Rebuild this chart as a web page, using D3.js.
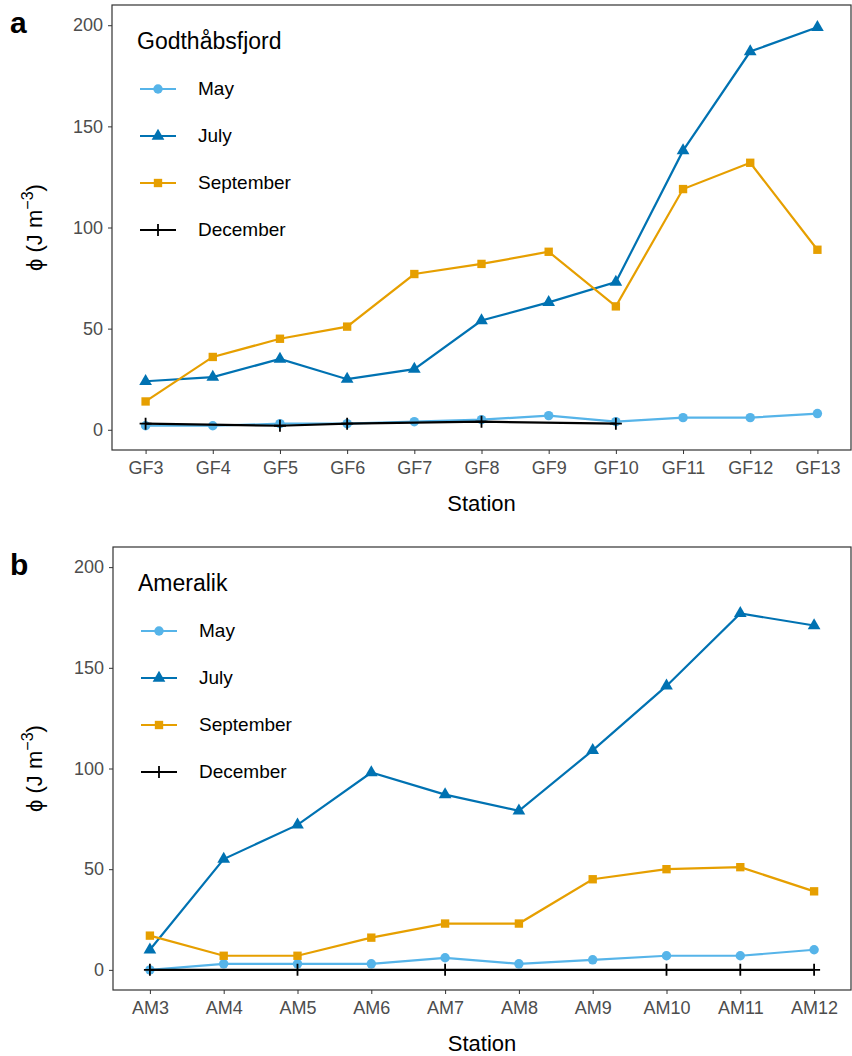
<!DOCTYPE html>
<html><head><meta charset="utf-8">
<script src="https://cdn.jsdelivr.net/npm/d3@7"></script>
<style>body{margin:0;background:#fff}text{font-family:Arial,"Liberation Sans",sans-serif}</style>
</head><body>
<svg id="c" width="852" height="1056"></svg>
<script>
// panel a data
var gfStations = ["GF3","GF4","GF5","GF6","GF7","GF8","GF9","GF10","GF11","GF12","GF13"];
var gfMay = [2,2,3,3,4,5,7,4,6,6,8];
var gfJuly = [24,26,35,25,30,54,63,73,138,187,199];
var gfSept = [14,36,45,51,77,82,88,61,119,132,89];
var gfDecStations = ["GF3","GF5","GF6","GF8","GF10"];
var gfDec = [3,2,3,4,3];
// panel b data
var amStations = ["AM3","AM4","AM5","AM6","AM7","AM8","AM9","AM10","AM11","AM12"];
var amMay = [0,3,3,3,6,3,5,7,7,10];
var amJuly = [10,55,72,98,87,79,109,141,177,171];
var amSept = [17,7,7,16,23,23,45,50,51,39];
var amDecStations = ["AM3","AM5","AM7","AM10","AM11","AM12"];
var amDec = [0,0,0,0,0,0];
var yTicks = [0,50,100,150,200];
var months = ["May","July","September","December"];
var colors = {May:"#56B4E9",July:"#0072B2",September:"#E69F00",December:"#000"};
var shapes = {May:d3.symbolCircle,July:d3.symbolTriangle,September:d3.symbolSquare,December:d3.symbolCross};

var svg = d3.select("#c");
var cross = "M-6,0L6,0M0,-6L0,6";

function panel(o) {
  var g = svg.append("g");
  var x = d3.scalePoint().domain(o.stations).range([o.x0, o.x1]).padding(0.5);
  var y = d3.scaleLinear().domain([-10, 210]).range([o.y1, o.y0]);
  g.append("rect").attr("x", o.x0).attr("y", o.y0).attr("width", o.x1 - o.x0).attr("height", o.y1 - o.y0)
    .attr("fill", "none").attr("stroke", "#333").attr("stroke-width", 1.2);
  var ya = g.append("g").attr("transform", "translate(" + o.x0 + ",0)")
    .call(d3.axisLeft(y).tickValues(yTicks).tickSize(4).tickPadding(5));
  var xa = g.append("g").attr("transform", "translate(0," + o.y1 + ")")
    .call(d3.axisBottom(x).tickSize(4).tickPadding(7));
  [ya, xa].forEach(a => {
    a.select(".domain").remove();
    a.selectAll("line").attr("stroke", "#333");
    a.selectAll("text").attr("fill", "#4d4d4d").style("font-size", "18px");
  });
  g.append("text").attr("x", (o.x0 + o.x1) / 2).attr("y", o.y1 + 61).attr("text-anchor", "middle")
    .style("font-size", "22px").text("Station");
  var yl = g.append("text").attr("transform", "translate(42," + ((o.y0 + o.y1) / 2) + ") rotate(-90)")
    .attr("text-anchor", "middle").style("font-size", "22px");
  yl.append("tspan").text("\u03d5 (J m");
  yl.append("tspan").attr("dy", -9).style("font-size", "16px").text("\u22123");
  yl.append("tspan").attr("dy", 9).text(")");
  g.append("text").attr("x", 10).attr("y", o.y0 + 28).style("font-size", "30px").style("font-weight", "bold").text(o.tag);

  var line = d3.line().x(d => x(d[0])).y(d => y(d[1]));
  o.series.forEach(s => {
    var pts = s.st.map((st, i) => [st, s.v[i]]);
    g.append("path").attr("d", line(pts)).attr("fill", "none").attr("stroke", colors[s.m]).attr("stroke-width", 2.2);
    g.selectAll(null).data(pts).enter().append("path")
      .attr("transform", d => "translate(" + x(d[0]) + "," + y(d[1]) + ")")
      .attr("d", s.m == "December" ? cross : d3.symbol(shapes[s.m], 70)())
      .attr("fill", colors[s.m]).attr("stroke", s.m == "December" ? "#000" : "none").attr("stroke-width", 1.8);
  });

  // legend
  g.append("text").attr("x", o.x0 + 25).attr("y", o.y0 + 44).style("font-size", "23px").text(o.title);
  months.forEach((m, i) => {
    var ly = o.y0 + 84 + i * 47;
    g.append("line").attr("x1", o.x0 + 28).attr("x2", o.x0 + 64).attr("y1", ly).attr("y2", ly)
      .attr("stroke", colors[m]).attr("stroke-width", 2.2);
    g.append("path").attr("transform", "translate(" + (o.x0 + 46) + "," + ly + ")")
      .attr("d", m == "December" ? cross : d3.symbol(shapes[m], 70)())
      .attr("fill", colors[m]).attr("stroke", m == "December" ? "#000" : "none").attr("stroke-width", 1.8);
    g.append("text").attr("x", o.x0 + 86).attr("y", ly + 6).style("font-size", "19px").text(m);
  });
}

panel({tag: "a", title: "Godthåbsfjord", stations: gfStations, x0: 112, x1: 851, y0: 5, y1: 450,
  series: [{m: "May", st: gfStations, v: gfMay}, {m: "July", st: gfStations, v: gfJuly},
           {m: "September", st: gfStations, v: gfSept}, {m: "December", st: gfDecStations, v: gfDec}]});
panel({tag: "b", title: "Ameralik", stations: amStations, x0: 113, x1: 851, y0: 547, y1: 990,
  series: [{m: "May", st: amStations, v: amMay}, {m: "July", st: amStations, v: amJuly},
           {m: "September", st: amStations, v: amSept}, {m: "December", st: amDecStations, v: amDec}]});
</script>
</body></html>
